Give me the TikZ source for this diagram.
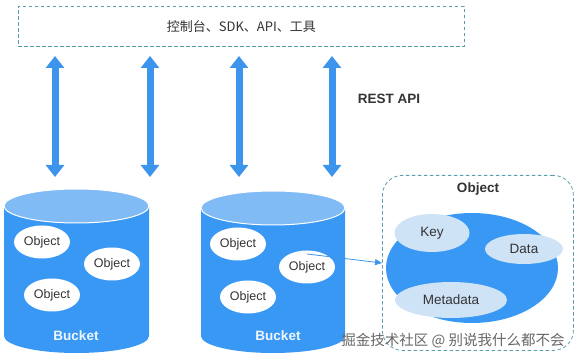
\documentclass[tikz,border=0pt]{standalone}
\usepackage{fontspec}
\setmainfont{Liberation Sans}
\newfontfamily\cjk{Noto Sans CJK SC}
\usetikzlibrary{arrows.meta,shapes.geometric}
\definecolor{bodyblue}{HTML}{3A98F5}
\definecolor{topblue}{HTML}{80BBF6}
\definecolor{arrblue}{HTML}{3D94EC}
\definecolor{lightblue}{HTML}{CFE3F7}
\definecolor{dashteal}{HTML}{5A9DAE}
\definecolor{txt}{HTML}{333333}
\tikzset{
  x=1pt,y=-1pt,
  dashbox/.style={draw=dashteal,line width=0.8pt,dash pattern=on 3.5pt off 2.5pt},
  fatarrow/.style={draw=arrblue,line width=7pt,{Triangle[width=18pt,length=12pt]}-{Triangle[width=18pt,length=12pt]}},
  objell/.style={ellipse,fill=white,minimum width=56pt,minimum height=33pt,inner sep=0pt,text=txt,font=\fontsize{12.5}{14}\selectfont},
  partell/.style={ellipse,fill=lightblue,inner sep=0pt,text=txt,font=\fontsize{13.5}{15}\selectfont},
  bucketlbl/.style={text=white!92!bodyblue,font=\fontsize{13.5}{15}\selectfont\bfseries},
}
\begin{document}
\begin{tikzpicture}
\useasboundingbox (0,0) rectangle (576,358);
% top box
\node[dashbox,minimum width=446pt,minimum height=40pt,anchor=north west,inner sep=0pt,text=txt,font=\fontsize{13}{15}\selectfont] (tools) at (18,6) {\cjk 控制台、SDK、API、工具};
% arrows
\foreach \i/\x in {1/55,2/150,3/239,4/332}{
  \coordinate (a\i t) at (\x,56);
  \coordinate (a\i b) at (\x,177);
  \draw[fatarrow] (a\i t) -- (a\i b);
}
\node[text=txt,font=\fontsize{13.5}{15}\selectfont\bfseries] (rest) at (389,99) {REST API};
% bucket 1
\fill[bodyblue] (4,206) -- (4,336) arc[start angle=180,end angle=360,x radius=72.5pt,y radius=17pt] -- (149,206) -- cycle;
\draw[fill=topblue,draw=white,line width=1pt] (76.5,206) ellipse[x radius=72.5pt,y radius=17pt];
\node[objell] (o11) at (42,242) {Object};
\node[objell] (o12) at (112,264) {Object};
\node[objell] (o13) at (52,295) {Object};
\node[bucketlbl] (b1) at (76,336) {Bucket};
% bucket 2
\fill[bodyblue] (201,208) -- (201,336) arc[start angle=180,end angle=360,x radius=72pt,y radius=17pt] -- (345,208) -- cycle;
\draw[fill=topblue,draw=white,line width=1pt] (273,208) ellipse[x radius=72pt,y radius=17pt];
\node[objell] (o21) at (238,244) {Object};
\node[objell] (o22) at (307,267) {Object};
\node[objell] (o23) at (248,297) {Object};
\node[bucketlbl] (b2) at (278,336) {Bucket};
% object box
\node[dashbox,rounded corners=20pt,minimum width=191pt,minimum height=175pt,anchor=north west,inner sep=0pt] (objbox) at (382,175) {};
\node[text=txt,font=\fontsize{13.5}{15}\selectfont\bfseries] (objtitle) at (478,189) {Object};
\node[ellipse,fill=bodyblue,minimum width=172pt,minimum height=110pt,inner sep=0pt] (big) at (472,268) {};
\node[partell,minimum width=75pt,minimum height=38pt] (key) at (432,233) {Key};
\node[partell,minimum width=78pt,minimum height=30pt] (data) at (524,249) {Data};
\node[partell,minimum width=112pt,minimum height=36pt] (meta) at (451,300) {Metadata};
% link
\coordinate (ls) at (307,254);
\draw[arrblue,line width=0.8pt,-{Triangle[width=6pt,length=7pt]}] (ls) -- (objbox.west |- 0,263);
% watermark
\node[text=black!60,font=\cjk\fontsize{14.5}{16}\selectfont] (wm) at (453,341) {掘金技术社区 @ 别说我什么都不会};
\end{tikzpicture}
\end{document}
